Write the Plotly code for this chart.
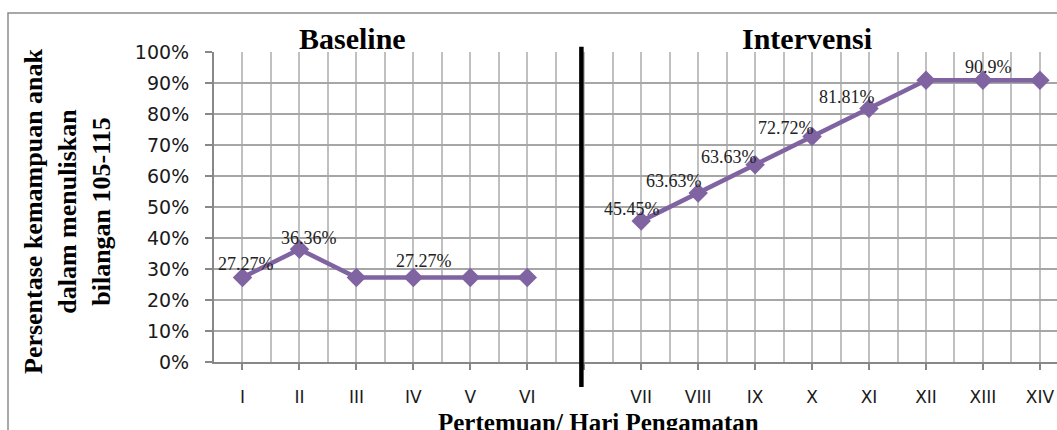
import plotly.graph_objects as go

# ---- data ----
sessions = ["I", "II", "III", "IV", "V", "VI", "", "VII", "VIII", "IX", "X", "XI", "XII", "XIII", "XIV"]
percent = [0.2727, 0.3636, 0.2727, 0.2727, 0.2727, 0.2727, None,
           0.4545, 0.5454, 0.6363, 0.7272, 0.8181, 0.909, 0.909, 0.909]
label_texts = ["27.27%", "36.36%", None, "27.27%", None, None, None,
               "45.45%", "63.63%", "63.63%", "72.72%", "81.81%", None, "90.9%", None]
phase_names = ["Baseline", "Intervensi"]
y_title = "Persentase kemampuan anak<br>dalam menuliskan<br>bilangan 105-115"
x_title = "Pertemuan/ Hari Pengamatan"

# label offsets (px) relative to their point
label_dx = [4, 10, 0, 11, 0, 0, 0, -9, -24, -26, -26, -22, 0, 6, 0]
label_dy = [13, 11, 0, 16, 0, 0, 0, 12, 12, 8, 9, 11, 0, 13, 0]

xs = list(range(len(sessions)))
gap_index = sessions.index("")

PURPLE = "#8064A2"
SERIF = "Liberation Serif, Times New Roman, serif"
SANS = "DejaVu Sans, Verdana, sans-serif"

fig = go.Figure()
fig.add_trace(go.Scatter(
    x=xs, y=percent, mode="lines+markers",
    line=dict(color=PURPLE, width=4.5),
    marker=dict(symbol="diamond", size=15, color=PURPLE),
    connectgaps=False, showlegend=False, hoverinfo="skip",
))

annotations = []
for i, t in enumerate(label_texts):
    if t is None:
        continue
    annotations.append(dict(
        x=xs[i], y=percent[i], xref="x", yref="y", text=t, showarrow=False,
        xshift=label_dx[i], yshift=label_dy[i],
        font=dict(family=SERIF, size=18, color="#222222"),
    ))

# panel titles
annotations.append(dict(x=0.164, y=1.045, xref="paper", yref="paper", text="<b>%s</b>" % phase_names[0],
                        showarrow=False, xanchor="center", yanchor="middle",
                        font=dict(family=SERIF, size=30, color="black")))
annotations.append(dict(x=0.704, y=1.045, xref="paper", yref="paper", text="<b>%s</b>" % phase_names[1],
                        showarrow=False, xanchor="center", yanchor="middle",
                        font=dict(family=SERIF, size=30, color="black")))
# axis titles
annotations.append(dict(x=(598 - 214) / 843, y=(362 - 422) / 310, xref="paper", yref="paper",
                        text="<b>%s</b>" % x_title, showarrow=False, xanchor="center", yanchor="middle",
                        font=dict(family=SERIF, size=25, color="black")))
annotations.append(dict(x=(67 - 214) / 843, y=(362 - 211) / 310, xref="paper", yref="paper",
                        text="<b>%s</b>" % y_title, showarrow=False, xanchor="center", yanchor="middle",
                        textangle=-90,
                        font=dict(family=SERIF, size=26, color="black")))

shapes = [
    # phase divider
    dict(type="line", xref="x", yref="paper", x0=gap_index - 0.05, x1=gap_index - 0.05,
         y0=-0.081, y1=1.017, line=dict(color="black", width=4.5), layer="above"),
    # outer chart border
    dict(type="rect", xref="paper", yref="paper", x0=(8 - 214) / 843, x1=1.1,
         y0=-0.4, y1=(362 - 13) / 310, line=dict(color="#8c8c8c", width=1.5),
         fillcolor="rgba(0,0,0,0)", layer="below"),
]

fig.update_layout(
    template="none",
    width=1057, height=430,
    margin=dict(l=214, r=0, t=52, b=68),
    paper_bgcolor="white", plot_bgcolor="white",
    annotations=annotations, shapes=shapes,
    showlegend=False,
)
fig.update_xaxes(
    range=[-0.5, 14.3], tickmode="array", tickvals=xs, ticktext=sessions,
    showgrid=True, gridcolor="#c0c0c0", gridwidth=2,
    minor=dict(tickmode="array", tickvals=[i - 0.5 for i in range(1, len(sessions) + 1)],
               showgrid=True, gridcolor="#c0c0c0", gridwidth=2, ticks=""),
    showline=True, linecolor="#888888", linewidth=2,
    ticks="outside", ticklen=6, tickwidth=2, tickcolor="#888888",
    tickfont=dict(family=SANS, size=17, color="#1a1a1a"),
    ticklabelstandoff=13, zeroline=False, automargin=False,
)
fig.update_yaxes(
    range=[0, 1], tickmode="linear", tick0=0, dtick=0.1, tickformat=".0%",
    showgrid=True, gridcolor="#a6a6a6", gridwidth=2,
    showline=True, linecolor="#888888", linewidth=2,
    ticks="outside", ticklen=7, tickwidth=2, tickcolor="#888888",
    tickfont=dict(family=SANS, size=19, color="#1a1a1a"),
    ticklabelstandoff=12, zeroline=False, automargin=False,
)

fig.write_html("out.html", config={"displayModeBar": False, "staticPlot": True},
               post_script="document.body.style.margin='0px';document.body.style.overflow='hidden';")
